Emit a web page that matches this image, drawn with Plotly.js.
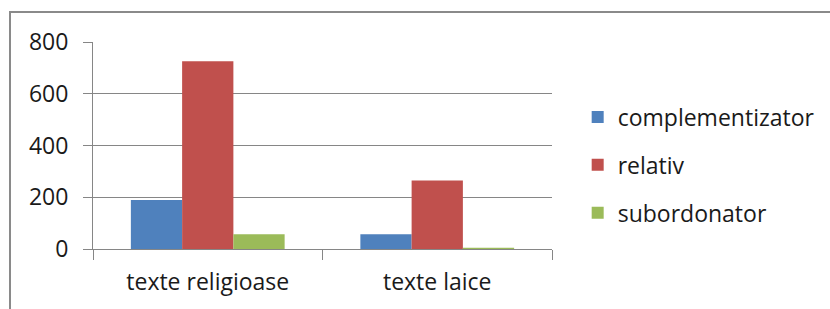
<!DOCTYPE html>
<html>
<head>
<meta charset="utf-8">
<script src="https://cdn.plot.ly/plotly-3.0.1.min.js"></script>
<style>
  html, body { margin: 0; padding: 0; background: #fff; }
  #wrap { position: relative; width: 830px; height: 309px; overflow: hidden; }
  #chart { position: absolute; left: 0; top: 0; width: 830px; height: 309px; }
  #frame { position: absolute; left: 9px; top: 11px; width: 900px; height: 400px;
           border-top: 2px solid #8a8a8a; border-left: 2px solid #8a8a8a; pointer-events: none; }
</style>
</head>
<body>
<div id="wrap">
  <div id="chart"></div>
  <div id="frame"></div>
</div>
<script>
const categories = ["texte religioase", "texte laice"];
const seriesNames = ["complementizator", "relativ", "subordonator"];
const complementizator = [189, 57];
const relativ = [726, 265];
const subordonator = [57, 5];
const yTicks = [0, 200, 400, 600, 800];

const colors = ["#4F81BD", "#C0504D", "#9BBB59"];
const values = [complementizator, relativ, subordonator];

const traces = values.map((v, i) => ({
  type: "bar",
  name: seriesNames[i],
  x: categories,
  y: v,
  legendgroup: "g" + i,
  marker: { color: colors[i], line: { width: 0 } },
  hoverinfo: "x+y+name"
}));

const font = { family: "'Open Sans', 'Noto Sans', sans-serif", size: 23, color: "#1a1a1a" };

const layout = {
  width: 830,
  height: 309,
  margin: { l: 93, r: 278, t: 42, b: 60, autoexpand: false },
  paper_bgcolor: "rgba(0,0,0,0)",
  plot_bgcolor: "rgba(0,0,0,0)",
  font: font,
  barmode: "group",
  bargap: 0.33,
  bargroupgap: 0,
  showlegend: true,
  legend: {
    xref: "container", yref: "container",
    x: 0.696, xanchor: "left",
    y: 0.466, yanchor: "middle",
    font: font,
    tracegroupgap: 15,
    itemwidth: 30,
    bgcolor: "rgba(0,0,0,0)"
  },
  xaxis: {
    type: "category",
    showline: true,
    linecolor: "#868686",
    linewidth: 1,
    ticks: "outside",
    tickson: "boundaries",
    ticklen: 10,
    tickcolor: "#868686",
    ticklabelstandoff: 12,
    showgrid: false,
    zeroline: false,
    tickfont: font
  },
  yaxis: {
    range: [0, 800],
    tickvals: yTicks,
    ticktext: yTicks.map(String),
    showline: true,
    linecolor: "#868686",
    linewidth: 1,
    ticks: "outside",
    ticklen: 9,
    tickcolor: "#868686",
    ticklabelstandoff: 10,
    showgrid: true,
    gridcolor: "#868686",
    gridwidth: 1,
    zeroline: false,
    tickfont: font
  }
};

Plotly.newPlot("chart", traces, layout, { displayModeBar: false, staticPlot: true });
</script>
</body>
</html>
